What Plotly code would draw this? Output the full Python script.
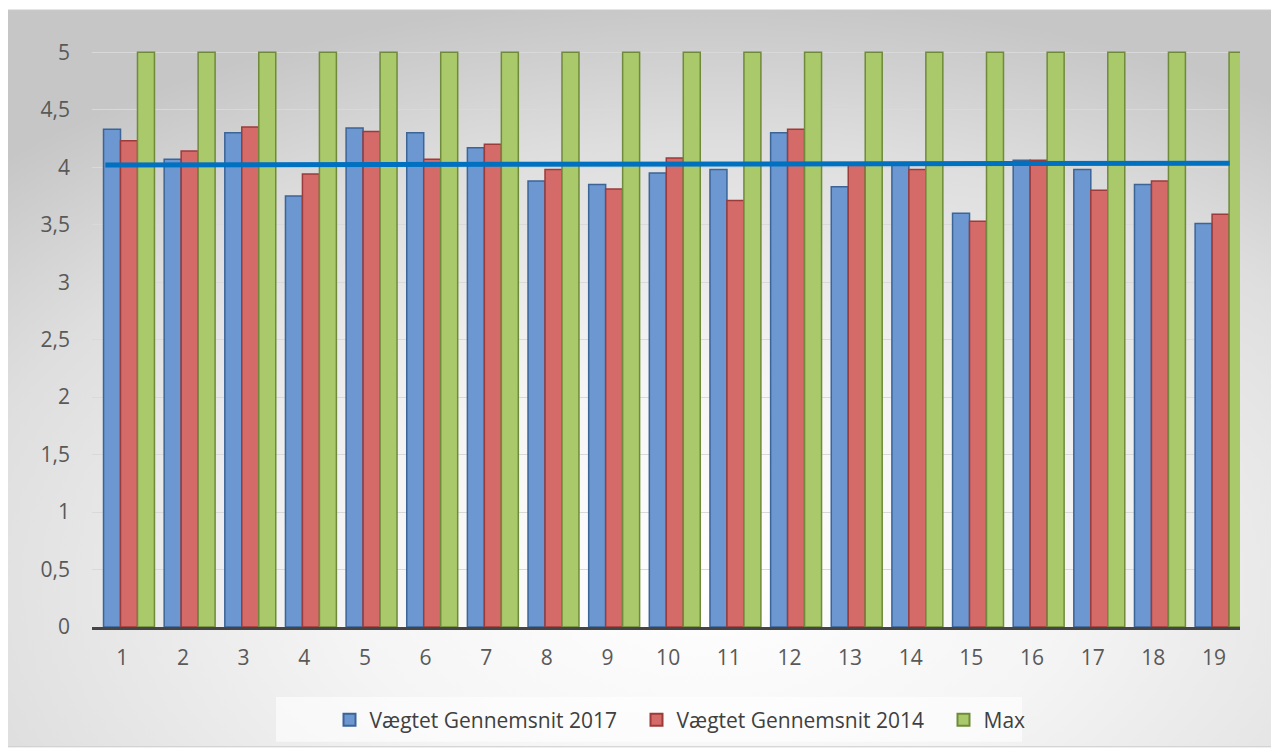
import base64
import plotly.graph_objects as go

categories = list(range(1, 20))
avg_2017 = [4.33, 4.07, 4.30, 3.75, 4.34, 4.30, 4.17, 3.88, 3.85, 3.95,
            3.98, 4.30, 3.83, 4.02, 3.60, 4.06, 3.98, 3.85, 3.51]
avg_2014 = [4.23, 4.14, 4.35, 3.94, 4.31, 4.07, 4.20, 3.98, 3.81, 4.08,
            3.71, 4.33, 4.02, 3.98, 3.53, 4.06, 3.80, 3.88, 3.59]
max_vals = [5] * 19
ref_line_x = [0.72, 19.26]
ref_line_y = [4.02, 4.035]
y_ticks = [0, 0.5, 1, 1.5, 2, 2.5, 3, 3.5, 4, 4.5, 5]
y_tick_text = ["0", "0,5", "1", "1,5", "2", "2,5", "3", "3,5", "4", "4,5", "5"]

# page has an 8px body margin; figure coordinates are page coordinates minus 8
OFF = 8
W, H = 1279 - OFF, 751 - OFF
ML, MR, MT, MB = 92 - OFF, 39, 35 - OFF, 123
pw, ph = W - ML - MR, H - MT - MB


def px_to_paper_x(page_x):
    return (page_x - OFF - ML) / pw


def px_to_paper_y(page_y):
    return (H - MB - (page_y - OFF)) / ph


svg = """<svg xmlns='http://www.w3.org/2000/svg' width='1268' height='738' preserveAspectRatio='none'>
<defs><radialGradient id='g' cx='55%' cy='78%' r='80%' fx='55%' fy='78%'>
<stop offset='0' stop-color='#ffffff'/><stop offset='0.35' stop-color='#f5f5f5'/>
<stop offset='0.75' stop-color='#dedede'/><stop offset='1' stop-color='#c6c6c6'/>
</radialGradient></defs>
<rect width='1268' height='738' fill='url(#g)'/></svg>"""
svg_uri = "data:image/svg+xml;base64," + base64.b64encode(svg.encode()).decode()

fig = go.Figure()
bar_specs = [
    ("Vægtet Gennemsnit 2017", avg_2017, "#6c97d0", "#3b6497", -0.31),
    ("Vægtet Gennemsnit 2014", avg_2014, "#d46b69", "#9c3b39", -0.03),
    ("Max", max_vals, "#a9c96b", "#6f8a3a", 0.25),
]
for name, vals, fill, edge, off in bar_specs:
    fig.add_trace(go.Bar(
        x=categories, y=vals, name=name, width=0.28, offset=off,
        marker=dict(color=fill, line=dict(color=edge, width=1.5)),
    ))

fig.add_trace(go.Scatter(
    x=ref_line_x, y=ref_line_y, mode="lines", showlegend=False,
    line=dict(color="#0070c0", width=5), hoverinfo="skip",
))

bx0, by0, bx1, by1 = 7, 10, 1275, 748
fig.add_layout_image(dict(
    source=svg_uri, xref="paper", yref="paper",
    x=px_to_paper_x(bx0), y=px_to_paper_y(by0),
    sizex=(bx1 - bx0) / pw, sizey=(by1 - by0) / ph,
    xanchor="left", yanchor="top", sizing="stretch", layer="below",
))
fig.add_shape(type="rect", xref="paper", yref="paper",
              x0=px_to_paper_x(bx0), x1=px_to_paper_x(bx1),
              y0=px_to_paper_y(by1), y1=px_to_paper_y(by0),
              line=dict(color="#c8c8c8", width=1), fillcolor="rgba(0,0,0,0)",
              layer="below")
# legend backing box
fig.add_shape(type="rect", xref="paper", yref="paper",
              x0=px_to_paper_x(276), x1=px_to_paper_x(1022),
              y0=px_to_paper_y(743), y1=px_to_paper_y(698),
              line=dict(width=0), fillcolor="rgba(255,255,255,0.6)",
              layer="below")

fig.update_layout(
    width=W, height=H,
    margin=dict(l=ML, r=MR, t=MT, b=MB),
    paper_bgcolor="white", plot_bgcolor="rgba(0,0,0,0)",
    barmode="overlay",
    font=dict(family="Open Sans, Liberation Sans, sans-serif", size=21, color="#595959"),
    xaxis=dict(range=[0.5, 19.43], tickmode="array", tickvals=categories,
               ticktext=[str(c) for c in categories], showgrid=False,
               showline=True, linecolor="#454545", linewidth=3,
               ticks="", zeroline=False, ticklabelstandoff=10),
    yaxis=dict(range=[0, 5.15], tickmode="array", tickvals=y_ticks,
               ticktext=y_tick_text, showgrid=True, gridcolor="#d9d9d9",
               gridwidth=1, zeroline=False, showline=False, ticks="",
               ticklabelstandoff=21),
    legend=dict(orientation="h", x=px_to_paper_x(790), xanchor="center",
                y=px_to_paper_y(720), yanchor="middle",
                bgcolor="rgba(0,0,0,0)", font=dict(size=21, color="#404040"),
                itemsizing="constant", traceorder="normal", itemwidth=30,
                entrywidth=262, entrywidthmode="pixels"),
)

fig.write_html("out.html")
